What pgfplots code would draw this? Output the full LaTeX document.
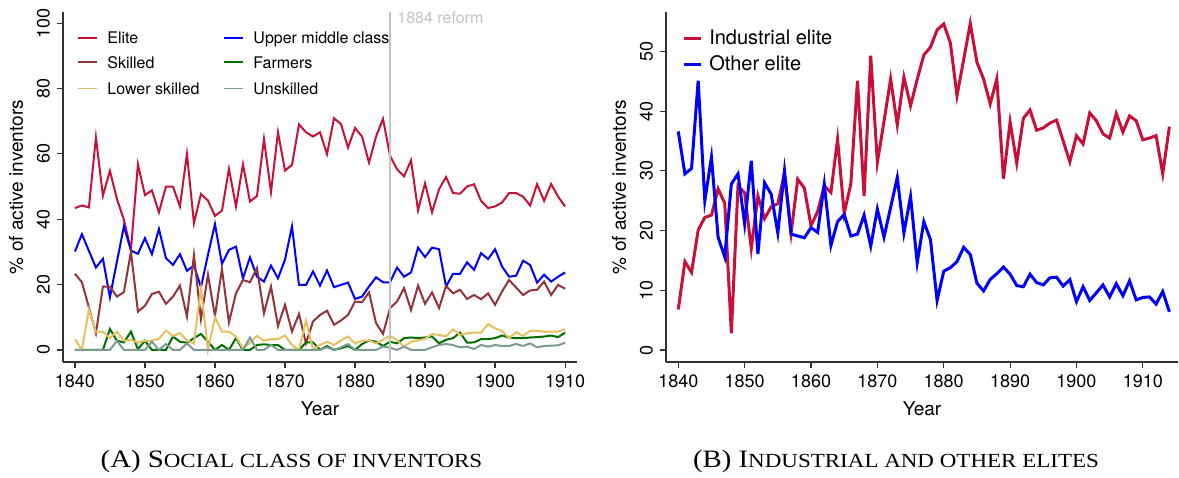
\documentclass[border=0pt]{standalone}
\usepackage{graphicx}
\usepackage{pgfplots}
\pgfplotsset{compat=1.18}
\usepackage{pgfplotstable}
\usepackage{fontspec}
\setmainfont{TeX Gyre Heros}
\newfontfamily\capfont{Liberation Serif}

\definecolor{cElite}{RGB}{200,16,56}
\definecolor{cSkilled}{RGB}{150,50,58}
\definecolor{cLower}{RGB}{228,192,96}
\definecolor{cUpper}{RGB}{0,0,255}
\definecolor{cFarm}{RGB}{0,110,0}
\definecolor{cUnsk}{RGB}{125,155,145}
\definecolor{axgray}{RGB}{50,50,50}
\definecolor{reform}{RGB}{195,195,195}

\pgfplotstableread{
year elite upper skilled lower farmers unskilled
1840 43.4 30.1 23.3 3.3 0 0
1841 44.2 35.4 20.7 0 0 0
1842 43.6 30.3 13.0 12.4 0 0
1843 65.0 25.2 5.1 5.4 0 0
1844 47.2 27.9 19.4 5.6 0 0
1845 54.8 16.1 19.4 3.6 6.4 0
1846 46.2 27.0 16.3 5.6 2.8 2.8
1847 39.8 37.8 17.7 2.8 2.3 0
1848 30.6 30.4 30.0 3.1 5.6 0
1849 56.8 29.4 11.7 2.2 0.2 0
1850 47.4 34.2 13.5 2.8 2.8 0
1851 48.8 29.3 17.1 2.8 0 2.5
1852 42.1 37.0 17.8 3.4 0 0
1853 50.0 28.1 14.1 5.9 0 1.8
1854 50.0 26.0 16.3 4.3 4.1 0
1855 43.9 29.3 19.7 5.1 2.5 0
1856 60.0 24.2 10.2 2.9 2.2 2.0
1857 38.8 25.8 29.1 2.0 3.6 0
1858 47.7 19.2 9.4 18.9 4.9 0
1859 45.7 29.1 23.0 0 2.5 0
1860 41.0 38.5 10.4 10.0 0 0
1861 42.6 26.3 24.7 5.6 1.5 0
1862 55.4 30.6 8.4 5.6 0 0
1863 43.9 31.6 17.3 4.1 3.6 0
1864 56.8 21.9 21.4 0.5 0 0
1865 45.4 28.3 20.7 2.2 0 3.8
1866 47.1 22.4 25.0 4.3 1.5 0
1867 64.5 20.9 11.2 2.8 1.7 0
1868 48.3 25.8 19.4 3.3 1.5 1.5
1869 66.6 21.9 7.3 3.3 1.5 0
1870 54.9 27.6 13.8 4.4 0 0
1871 56.6 37.8 5.6 1.5 0 0
1872 69.0 19.9 11.0 0 0 0
1873 66.6 19.9 2.0 9.0 2.3 0
1874 65.3 24.0 8.7 0.2 2.3 0
1875 66.6 19.7 10.7 1.5 0 0
1876 59.9 24.3 12.0 2.5 1.2 0.8
1877 70.9 19.2 7.7 1.5 0 0
1878 69.1 19.9 9.0 2.9 0.5 0.8
1879 61.9 20.6 10.7 4.1 1.2 1.8
1880 67.9 15.6 14.8 2.0 0 0
1881 65.3 16.3 14.6 2.8 1.8 0
1882 57.3 19.4 17.6 2.9 2.9 0
1883 65.3 22.2 8.2 2.0 2.5 0
1884 70.7 20.7 4.9 3.1 1.2 1.0
1885 59.4 20.7 12.8 4.3 2.5 0.7
1886 55.3 25.2 14.8 3.0 2.0 0
1887 53.1 22.4 18.9 1.0 3.6 1.0
1888 58.0 23.7 12.2 2.5 3.8 0
1889 42.7 31.3 19.7 2.9 3.6 0
1890 51.0 28.4 14.1 3.4 3.8 0
1891 42.1 31.3 17.6 4.8 4.1 0.8
1892 49.2 30.8 12.8 4.6 2.0 1.5
1893 52.9 19.4 19.6 4.1 3.1 1.8
1894 48.0 23.3 17.3 6.3 3.6 1.5
1895 47.8 23.3 18.4 4.6 5.3 0.8
1896 50.0 26.8 15.6 5.1 2.2 1.0
1897 50.7 24.5 16.8 5.3 2.3 0.3
1898 45.6 29.6 15.5 5.3 3.3 1.5
1899 43.4 27.8 17.3 7.9 3.3 1.0
1900 43.9 30.8 13.8 6.6 3.6 1.5
1901 45.1 25.5 17.9 5.8 4.4 1.2
1902 48.0 22.4 21.4 3.6 3.8 1.2
1903 48.0 22.7 19.1 5.4 3.6 1.8
1904 46.9 27.3 16.8 4.3 3.6 1.2
1905 44.2 26.0 18.2 5.8 3.8 2.0
1906 50.7 20.6 18.4 5.8 3.9 0.8
1907 45.6 23.0 20.9 5.6 4.1 1.2
1908 50.8 20.9 16.8 5.6 4.4 1.3
1909 46.9 22.4 19.9 5.6 3.9 1.4
1910 43.9 23.7 18.7 6.3 5.3 2.2
}\classtable

\pgfplotstableread{
year ind other
1840 6.8 36.6
1841 14.8 29.5
1842 13.0 30.4
1843 20.1 45.1
1844 22.2 25.0
1845 22.6 32.3
1846 27.0 18.9
1847 24.6 15.6
1848 2.8 27.8
1849 27.5 29.5
1850 26.3 21.1
1851 17.0 31.7
1852 25.8 16.1
1853 22.0 28.0
1854 24.0 26.1
1855 24.5 19.6
1856 29.6 30.0
1857 19.6 19.4
1858 28.6 19.1
1859 27.1 18.8
1860 20.8 20.5
1861 23.2 19.7
1862 27.5 27.8
1863 26.4 17.5
1864 35.3 21.5
1865 22.9 22.7
1866 27.8 19.1
1867 45.1 19.4
1868 25.8 22.6
1869 49.3 17.4
1870 31.4 23.6
1871 38.3 18.9
1872 45.4 23.9
1873 37.7 28.9
1874 45.7 19.6
1875 40.9 25.7
1876 45.3 14.6
1877 49.4 21.5
1878 50.7 18.5
1879 53.6 8.3
1880 54.6 13.2
1881 51.4 13.8
1882 42.6 14.8
1883 48.6 17.2
1884 54.7 16.0
1885 48.2 11.2
1886 45.4 9.9
1887 41.2 11.8
1888 45.4 12.8
1889 28.7 13.9
1890 38.2 12.7
1891 31.3 10.8
1892 38.8 10.6
1893 40.2 12.7
1894 36.8 11.3
1895 37.2 10.9
1896 38.0 12.1
1897 38.5 12.2
1898 35.0 10.7
1899 31.5 11.8
1900 35.9 8.1
1901 34.5 10.6
1902 39.7 8.3
1903 38.4 9.6
1904 36.2 10.9
1905 35.5 8.9
1906 39.6 11.1
1907 36.5 9.1
1908 39.2 11.6
1909 38.4 8.4
1910 35.2 8.8
1911 35.5 8.9
1912 35.9 7.7
1913 29.5 9.8
1914 37.4 6.4
}\elitetable

\pgfplotsset{
  stataaxis/.style={
    scale only axis,
    axis x line*=bottom,
    axis y line*=left,
    axis line style={axgray, line width=0.6pt},
    tick style={axgray, line width=0.6pt},
    tick align=outside,
    major tick length=3pt,
    xtick={1840,1850,...,1910},
    /pgf/number format/1000 sep={},
    /pgf/number format/assume math mode=true,
    ticklabel style={font=\fontsize{9}{9}\selectfont},
    yticklabel style={rotate=90, anchor=south},
    xlabel={Year},
    ylabel={\% of active inventors},
    label style={font=\fontsize{9.5}{9.5}\selectfont},
    legend cell align=left,
  },
}

\begin{document}
\begin{tikzpicture}
\useasboundingbox (0,0) rectangle (589.5pt,238.5pt);

% ---------- Panel A ----------
\begin{axis}[
  stataaxis,
  at={(31.5pt,57.5pt)}, anchor=south west,
  width=257pt, height=175pt,
  xmin=1838.3, xmax=1911.7,
  ymin=-3.7, ymax=103.4,
  ytick={0,20,...,100},
]
\addplot[cElite, line width=1pt] table[x=year, y=elite] {\classtable};
\addplot[cUpper, line width=1pt] table[x=year, y=upper] {\classtable};
\addplot[cSkilled, line width=1pt] table[x=year, y=skilled] {\classtable};
\addplot[cFarm, line width=1pt] table[x=year, y=farmers] {\classtable};
\addplot[cLower, line width=1pt] table[x=year, y=lower] {\classtable};
\addplot[cUnsk, line width=1pt] table[x=year, y=unskilled] {\classtable};

\addplot[reform, line width=0.75pt] coordinates {(1885,-3.7) (1885,103.4)};
\node[anchor=west, inner sep=0pt, text=reform, font=\fontsize{8}{8}\selectfont] at (axis cs:1886,101.6) {1884 reform};

% legend (key)
\begin{scope}[font=\fontsize{8}{8}\selectfont]
\draw[cElite, line width=0.8pt] (rel axis cs:0.0292,0.926) -- (rel axis cs:0.0661,0.926);
\node[anchor=base west, inner sep=0pt] at (rel axis cs:0.0856,0.9096) {Elite};
\draw[cSkilled, line width=0.8pt] (rel axis cs:0.0292,0.8563) -- (rel axis cs:0.0661,0.8563);
\node[anchor=base west, inner sep=0pt] at (rel axis cs:0.0856,0.8399) {Skilled};
\draw[cLower, line width=0.8pt] (rel axis cs:0.0292,0.7809) -- (rel axis cs:0.0661,0.7809);
\node[anchor=base west, inner sep=0pt] at (rel axis cs:0.0856,0.7645) {Lower skilled};
\draw[cUpper, line width=0.8pt] (rel axis cs:0.3132,0.926) -- (rel axis cs:0.3502,0.926);
\node[anchor=base west, inner sep=0pt] at (rel axis cs:0.3696,0.9096) {Upper middle class};
\draw[cFarm, line width=0.8pt] (rel axis cs:0.3132,0.8563) -- (rel axis cs:0.3502,0.8563);
\node[anchor=base west, inner sep=0pt] at (rel axis cs:0.3696,0.8399) {Farmers};
\draw[cUnsk, line width=0.8pt] (rel axis cs:0.3132,0.7809) -- (rel axis cs:0.3502,0.7809);
\node[anchor=base west, inner sep=0pt] at (rel axis cs:0.3696,0.7645) {Unskilled};
\end{scope}
\end{axis}

% ---------- Panel B ----------
\begin{axis}[
  stataaxis,
  at={(333pt,57.5pt)}, anchor=south west,
  width=256pt, height=175pt,
  xmin=1838.15, xmax=1915.3,
  ymin=-2, ymax=56.6,
  ytick={0,10,...,50},
  legend image code/.code={\draw[#1] (0pt,0pt) -- (8.5pt,0pt);},
  legend style={
    at={(0.031,0.952)}, anchor=north west,
    draw=none, fill=none, inner sep=0pt,
    font=\fontsize{10}{10}\selectfont,
    row sep=3.5pt,
    nodes={inner sep=0pt, text height=7.5pt, text depth=2pt},
    /tikz/every odd column/.append style={column sep=3.5pt},
  },
]
\addplot[cElite, line width=1.5pt] table[x=year, y=ind] {\elitetable};
\addlegendentry{Industrial elite}
\addplot[cUpper, line width=1.5pt] table[x=year, y=other] {\elitetable};
\addlegendentry{Other elite}
\end{axis}

% ---------- Captions ----------
\node[inner sep=0pt] at (145.75pt,8pt) {\capfont\scalebox{1}[0.87]{\fontsize{14.4}{14.4}\selectfont (A) S\fontsize{11.5}{11.5}\selectfont OCIAL CLASS OF INVENTORS}};
\node[inner sep=0pt] at (448pt,8pt) {\capfont\scalebox{1}[0.87]{\fontsize{14.4}{14.4}\selectfont (B) I\fontsize{11.5}{11.5}\selectfont NDUSTRIAL AND OTHER ELITES}};
\end{tikzpicture}
\end{document}
